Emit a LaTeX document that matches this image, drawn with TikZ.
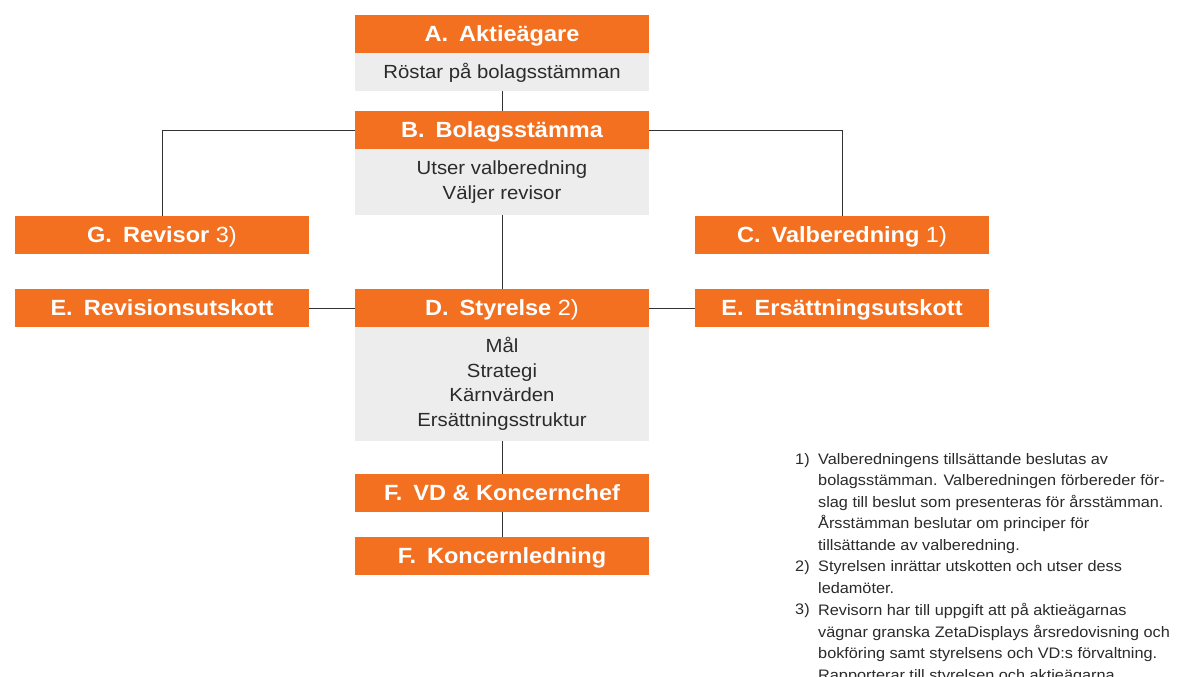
\documentclass[tikz,border=0pt]{standalone}
\usepackage{fontspec}
\setmainfont{Liberation Sans}[FakeStretch=1.07]
\definecolor{zorange}{HTML}{F37021}
\definecolor{zgray}{HTML}{EDEDED}
\definecolor{ztext}{HTML}{2B2B2B}
\definecolor{zline}{HTML}{333333}
\newcommand{\hgap}{\hspace{0.5em}}
\begin{document}
\begin{tikzpicture}[x=1pt,y=-1pt,
  hdr/.style={fill=zorange,text=white,minimum width=294pt,minimum height=38pt,inner sep=0pt,
    text height=15.8pt,text depth=0pt,
    font=\fontsize{22}{24}\selectfont\bfseries},
  graybox/.style={fill=zgray,text=ztext,minimum width=294pt,inner sep=0pt,align=center,
    font=\fontsize{19}{24.5}\selectfont},
  conn/.style={draw=zline,line width=0.9pt},
  fnnum/.style={anchor=north west,inner sep=0pt,text=ztext,font=\fontsize{15.2}{21.5}\selectfont},
  fntext/.style={anchor=north west,inner sep=0pt,text=ztext,align=left,font=\fontsize{15.2}{21.5}\selectfont}
]
\useasboundingbox[fill=white] (0,0) rectangle (1178,677);
% A
\node[hdr] (A) at (502,34) {A.\hgap Aktieägare};
\node[graybox,minimum height=38pt,text height=13.6pt,text depth=0pt] (Ag) at (502,72) {Röstar på bolagsstämman};
% B
\node[hdr] (B) at (502,130) {B.\hgap Bolagsstämma};
\node[graybox,minimum height=66pt] (Bg) at (502,182) {Utser valberedning\\Väljer revisor};
% G and C
\node[hdr] (G) at (162,235) {G.\hgap Revisor \mdseries 3)};
\node[hdr] (C) at (842,235) {C.\hgap Valberedning \mdseries 1)};
% D
\node[hdr] (D) at (502,308) {D.\hgap Styrelse \mdseries 2)};
\node[graybox,minimum height=114pt] (Dg) at (502,384) {Mål\\Strategi\\Kärnvärden\\Ersättningsstruktur};
% E
\node[hdr] (EL) at (162,308) {E.\hgap Revisionsutskott};
\node[hdr] (ER) at (842,308) {E.\hgap Ersättningsutskott};
% F
\node[hdr] (F1) at (502,493) {F.\hgap VD \& Koncernchef};
\node[hdr] (F2) at (502,556) {F.\hgap Koncernledning};
% connectors
\draw[conn] (Ag.south) -- (B.north);
\draw[conn] (B.west) -| (G.north);
\draw[conn] (B.east) -| (C.north);
\draw[conn] (Bg.south) -- (D.north);
\draw[conn] (EL.east) -- (D.west);
\draw[conn] (D.east) -- (ER.west);
\draw[conn] (Dg.south) -- (F1.north);
\draw[conn] (F1.south) -- (F2.north);
% footnotes
\node[fnnum] (n1) at (795,453) {1)};
\node[fntext] (t1) at (818,453) {Valberedningens tillsättande beslutas av\\bolagsstämman. Valberedningen förbereder för-\\slag till beslut som presenteras för årsstämman.\\Årsstämman beslutar om principer för\\tillsättande av valberedning.};
\node[fnnum] (n2) at (795,560.5) {2)};
\node[fntext] (t2) at (818,560.5) {Styrelsen inrättar utskotten och utser dess\\ledamöter.};
\node[fnnum] (n3) at (795,603.5) {3)};
\node[fntext] (t3) at (818,603.5) {Revisorn har till uppgift att på aktieägarnas\\vägnar granska ZetaDisplays årsredovisning och\\bokföring samt styrelsens och VD:s förvaltning.\\Rapporterar till styrelsen och aktieägarna.};
\end{tikzpicture}
\end{document}
